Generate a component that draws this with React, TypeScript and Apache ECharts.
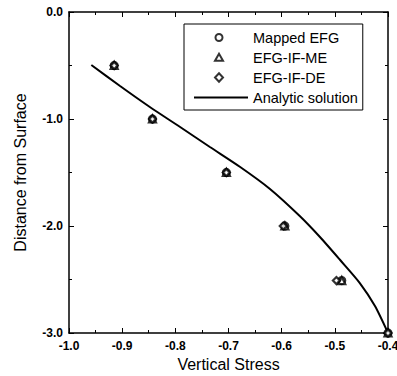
import React, { useEffect, useRef } from "react";
import * as echarts from "echarts";

const xTicks = [-1.0, -0.9, -0.8, -0.7, -0.6, -0.5, -0.4];
const yTicks = [0.0, -1.0, -2.0, -3.0];

const mappedX = [-0.915, -0.843, -0.704, -0.594, -0.487, -0.4];
const mappedY = [-0.5, -1.0, -1.5, -2.0, -2.51, -3.0];

const meX = [-0.915, -0.843, -0.704, -0.594, -0.487, -0.4];
const meY = [-0.5, -1.0, -1.5, -2.0, -2.51, -3.0];

const deX = [-0.915, -0.843, -0.704, -0.597, -0.497, -0.4];
const deY = [-0.5, -1.0, -1.5, -2.0, -2.51, -3.0];

const analyticX = [-0.958, -0.904, -0.848, -0.791, -0.735, -0.678, -0.622, -0.566, -0.528, -0.490, -0.453, -0.4245, -0.4];
const analyticY = [-0.495, -0.692, -0.888, -1.075, -1.262, -1.449, -1.654, -1.907, -2.103, -2.318, -2.533, -2.748, -3.0];

const zip = (xs: number[], ys: number[]) => xs.map((x, i) => [x, ys[i]]);

const FONT = "'Liberation Sans', Arial, Helvetica, sans-serif";

// legend icons: wide boxes so the symbol stays centred and unstretched
const ICON_CIRCLE = "path://M0 0 M54 11 M28.5 5.5 A3.5 3.5 0 1 1 21.5 5.5 A3.5 3.5 0 1 1 28.5 5.5 Z";
const ICON_TRIANGLE = "path://M0 0 M54 11 M25 1.8 L29 8.8 L21 8.8 Z";
const ICON_DIAMOND = "path://M0 0 M54 11 M25 1.3 L29 5.5 L25 9.7 L21 5.5 Z";
const ICON_LINE = "path://M0 0 M54 11 M0 4.5 L54 4.5 L54 6.5 L0 6.5 Z";

export default function App() {
  const ref = useRef<HTMLDivElement>(null);
  useEffect(() => {
    const chart = echarts.init(ref.current!, null, { renderer: "svg" });
    const markerStyle = { color: "#ffffff", borderColor: "#000000", borderWidth: 2.2 };
    const axisCommon = {
      axisLine: { show: true, onZero: false, lineStyle: { color: "#000", width: 1.5 } },
      axisTick: { show: true, inside: true, length: 5, lineStyle: { color: "#000", width: 1 } },
      minorTick: { show: true, splitNumber: 2, length: 3, lineStyle: { color: "#000", width: 1 } },
      splitLine: { show: false },
    };
    const tickLabel = {
      color: "#000",
      fontFamily: FONT,
      fontSize: 12,
      fontWeight: "bold",
    };
    chart.setOption({
      animation: false,
      backgroundColor: "#ffffff",
      textStyle: { fontFamily: FONT },
      grid: { left: 69, right: 9, top: 12, bottom: 43, outerBoundsMode: "none", containLabel: false },
      legend: {
        orient: "vertical",
        left: 184,
        top: 24,
        padding: [6, 5, 5, 9],
        itemGap: 5,
        itemWidth: 54,
        itemHeight: 11,
        borderColor: "#000",
        borderWidth: 1,
        textStyle: { fontFamily: FONT, fontSize: 14.5, color: "#000" },
        data: [
          { name: "Mapped EFG", icon: ICON_CIRCLE },
          { name: "EFG-IF-ME", icon: ICON_TRIANGLE },
          { name: "EFG-IF-DE", icon: ICON_DIAMOND },
          { name: "Analytic solution", icon: ICON_LINE, itemStyle: { color: "#000", borderWidth: 0 } },
        ],
      },
      xAxis: [
        {
          type: "value",
          min: -1.0,
          max: -0.4,
          interval: 0.1,
          position: "bottom",
          name: "Vertical Stress",
          nameLocation: "middle",
          nameGap: 23,
          nameTextStyle: { fontFamily: FONT, fontSize: 16, color: "#000" },
          axisLabel: {
            ...tickLabel,
            margin: 7,
            formatter: (v: number) => {
              const t = xTicks.find((x) => Math.abs(x - v) < 1e-6);
              return t === undefined ? "" : t.toFixed(1);
            },
          },
          ...axisCommon,
        },
        {
          type: "value",
          min: -1.0,
          max: -0.4,
          interval: 0.1,
          position: "top",
          axisLabel: { show: false },
          ...axisCommon,
        },
      ],
      yAxis: [
        {
          type: "value",
          min: -3,
          max: 0,
          interval: 1,
          position: "left",
          name: "Distance from Surface",
          nameLocation: "middle",
          nameGap: 41,
          nameTextStyle: { fontFamily: FONT, fontSize: 16, color: "#000" },
          axisLabel: {
            ...tickLabel,
            margin: 6,
            formatter: (v: number) => {
              const t = yTicks.find((y) => Math.abs(y - v) < 1e-6);
              return t === undefined ? "" : t.toFixed(1);
            },
          },
          ...axisCommon,
        },
        {
          type: "value",
          min: -3,
          max: 0,
          interval: 1,
          position: "right",
          axisLabel: { show: false },
          ...axisCommon,
        },
      ],
      series: [
        {
          name: "Analytic solution",
          type: "line",
          data: zip(analyticX, analyticY),
          smooth: 0.25,
          symbol: "none",
          lineStyle: { color: "#000", width: 2 },
          itemStyle: { color: "#000" },
          z: 1,
        },
        {
          name: "Mapped EFG",
          type: "scatter",
          symbol: "circle",
          symbolSize: 7,
          data: zip(mappedX, mappedY),
          itemStyle: markerStyle,
          z: 3,
        },
        {
          name: "EFG-IF-ME",
          type: "scatter",
          symbol: "triangle",
          symbolSize: 7,
          data: zip(meX, meY),
          itemStyle: markerStyle,
          z: 3,
        },
        {
          name: "EFG-IF-DE",
          type: "scatter",
          symbol: "diamond",
          symbolSize: 7,
          data: zip(deX, deY),
          itemStyle: markerStyle,
          z: 3,
        },
      ],
    });
    return () => chart.dispose();
  }, []);
  return <div ref={ref} style={{ width: 397, height: 376, position: "absolute", left: 0, top: 0 }} />;
}
